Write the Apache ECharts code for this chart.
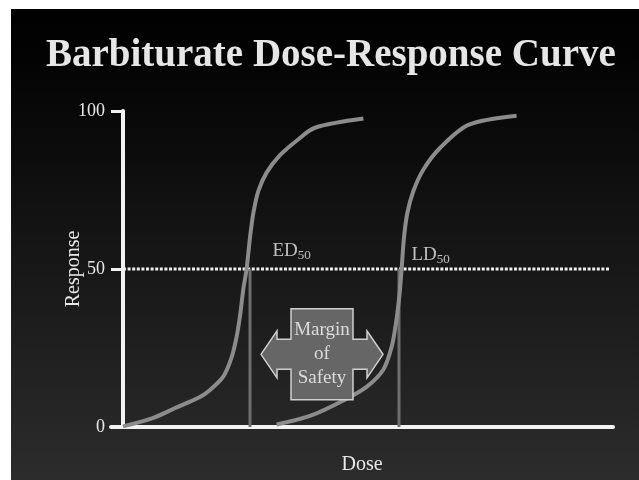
<!DOCTYPE html>
<html>
<head>
<meta charset="utf-8">
<script src="https://cdn.jsdelivr.net/npm/echarts@6/dist/echarts.min.js"></script>
<style>
  html, body { margin: 0; padding: 0; background: #fff; }
  #chart { width: 639px; height: 480px; }
</style>
</head>
<body>
<div id="chart"></div>
<script>
// dose (x) / response (y)
const edCurve = [
  [0, 0.2], [15.2, 2.9], [26.8, 6.2], [38.5, 9.5], [43.5, 11.7], [50.2, 16.0],
  [54.3, 22.0], [56.8, 28.5], [58.5, 35.1], [60.2, 43.8], [61.8, 50],
  [63.5, 60.0], [65.2, 67.8], [67.7, 74.7], [71.8, 80.5], [78.5, 86.0],
  [86.8, 90.6], [96, 94.7], [120.2, 97.6]
];
const ldCurve = [
  [76.8, 0.8], [93.5, 3.5], [110.2, 8.4], [121.8, 12.7], [130.2, 18.2],
  [134.3, 25.3], [136.5, 32.9], [138.2, 41.6], [139.3, 50], [140.5, 60.0],
  [142.2, 67.8], [145.2, 74.7], [150.2, 81.5], [158.5, 88.3], [172.7, 95.6],
  [196.8, 98.5]
];
const ed50 = 63.5;
const ld50 = 138;
const halfLine = [[0, 50], [243, 50]];
const marginArrow = [69, 130, 23]; // left tip, right tip, response level
const yTicks = [0, 50, 100];

const serif = "'Liberation Serif', 'DejaVu Serif', serif";
const chart = echarts.init(document.getElementById("chart"));

const subLabel = (a) => ({
  show: true,
  position: "right",
  distance: 0,
  formatter: "{a|" + a + "}{s|50}",
  rich: {
    a: { fontFamily: serif, fontSize: 19, color: "#e8e8e8" },
    s: { fontFamily: serif, fontSize: 13, color: "#e8e8e8", padding: [9, 0, 0, 0] },
  },
});

chart.setOption({
  backgroundColor: {
    type: "linear", x: 0, y: 0, x2: 0, y2: 1,
    colorStops: [
      { offset: 0, color: "#000" },
      { offset: 0.12, color: "#030303" },
      { offset: 1, color: "#2c2c2c" },
    ],
  },
  title: {
    text: "Barbiturate Dose-Response Curve",
    left: 41,
    top: 31,
    textStyle: { fontFamily: serif, fontWeight: "bold", fontSize: 39, color: "#e6e6e6" },
  },
  graphic: [
    { type: "rect", shape: { x: 0, y: 0, width: 639, height: 9 }, style: { fill: "#fff" }, z: 100 },
    { type: "rect", shape: { x: 0, y: 0, width: 11, height: 480 }, style: { fill: "#fff" }, z: 100 },
  ],
  grid: { left: 111, right: 26, top: 111, bottom: 46 },
  xAxis: {
    type: "value",
    min: -6,
    max: 245,
    splitLine: { show: false },
    axisTick: { show: false },
    axisLabel: { show: false },
    axisLine: { lineStyle: { color: "#f2f2f2", width: 4 } },
    name: "Dose",
    nameLocation: "middle",
    nameGap: 28,
    nameTextStyle: { fontFamily: serif, fontSize: 20, color: "#e8e8e8" },
  },
  yAxis: {
    type: "value",
    min: 0,
    max: 100,
    interval: 50,
    splitLine: { show: false },
    axisLine: { onZero: true, lineStyle: { color: "#f2f2f2", width: 4 } },
    axisTick: { length: 12, lineStyle: { color: "#f2f2f2", width: 3 } },
    axisLabel: {
      margin: 6,
      fontFamily: serif,
      fontSize: 18,
      color: "#e8e8e8",
      formatter: (v) => (yTicks.includes(v) ? String(v) : ""),
    },
    name: "Response",
    nameLocation: "middle",
    nameGap: 27,
    nameMoveOverlap: false,
    nameTextStyle: { fontFamily: serif, fontSize: 20, color: "#e8e8e8" },
  },
  series: [
    {
      type: "line",
      data: halfLine,
      showSymbol: false,
      silent: true,
      lineStyle: { color: "#f0f0f0", width: 3, type: [3, 1.6] },
      z: 2,
    },
    {
      type: "line",
      data: [[ed50, 0], [ed50, 50]],
      showSymbol: false,
      lineStyle: { color: "#6e6e6e", width: 3 },
      z: 3,
    },
    {
      type: "line",
      data: [[ld50, 0], [ld50, 50]],
      showSymbol: false,
      lineStyle: { color: "#6e6e6e", width: 3 },
      z: 3,
    },
    {
      type: "line",
      data: edCurve,
      smooth: 0.3,
      showSymbol: false,
      lineStyle: { color: "#8c8c8c", width: 4 },
      z: 4,
    },
    {
      type: "line",
      data: ldCurve,
      smooth: 0.3,
      showSymbol: false,
      lineStyle: { color: "#8c8c8c", width: 4 },
      z: 4,
    },
    {
      type: "scatter",
      symbolSize: 1,
      itemStyle: { color: "rgba(0,0,0,0)" },
      data: [
        { value: [ed50, 50], label: Object.assign(subLabel("ED"), { offset: [22, -18] }) },
        { value: [ld50, 50], label: Object.assign(subLabel("LD"), { offset: [12, -14] }) },
      ],
      z: 5,
    },
    {
      type: "custom",
      data: [marginArrow],
      z: 6,
      renderItem: (params, api) => {
        const l = api.coord([api.value(0), api.value(2)]);
        const r = api.coord([api.value(1), api.value(2)]);
        const xl = l[0], xr = r[0], cy = l[1];
        const cx = (xl + xr) / 2;
        const bw = 31, bh = 45.5, sh = 15, hh = 23.5, hl = 16;
        const pts = [
          [xl, cy], [xl + hl, cy - hh], [xl + hl, cy - sh], [cx - bw, cy - sh],
          [cx - bw, cy - bh], [cx + bw, cy - bh], [cx + bw, cy - sh], [xr - hl, cy - sh],
          [xr - hl, cy - hh], [xr, cy], [xr - hl, cy + hh], [xr - hl, cy + sh],
          [cx + bw, cy + sh], [cx + bw, cy + bh], [cx - bw, cy + bh], [cx - bw, cy + sh],
          [xl + hl, cy + sh], [xl + hl, cy + hh],
        ];
        return {
          type: "group",
          children: [
            {
              type: "polygon",
              shape: { points: pts },
              style: { fill: "#666", stroke: "#d0d0d0", lineWidth: 1.5 },
            },
            {
              type: "text",
              x: cx,
              y: cy,
              style: {
                text: "Margin\nof\nSafety",
                fontFamily: serif,
                fontSize: 19,
                lineHeight: 24,
                fill: "#dcdcdc",
                align: "center",
                verticalAlign: "middle",
              },
            },
          ],
        };
      },
    },
  ],
});
</script>
</body>
</html>
